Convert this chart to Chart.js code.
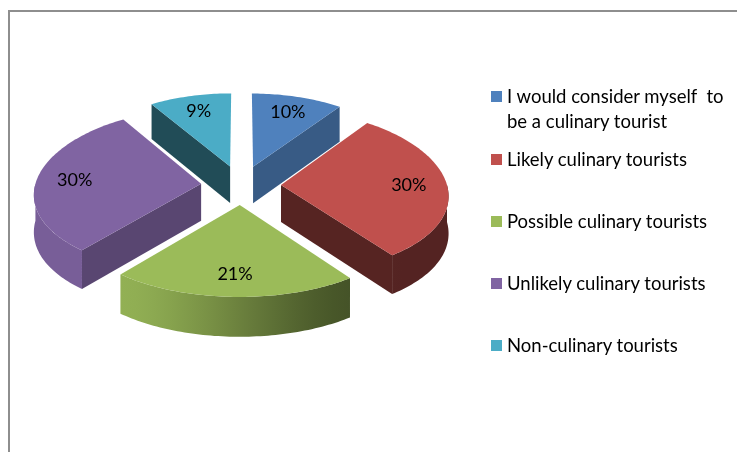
<!DOCTYPE html>
<html>
<head>
<meta charset="utf-8">
<script src="https://cdn.jsdelivr.net/npm/chart.js@4/dist/chart.umd.min.js"></script>
<style>
  html, body { margin: 0; padding: 0; background: #fff; }
  #wrap { position: relative; width: 737px; height: 452px; overflow: hidden; background: #fff; }
  #frame { position: absolute; left: 8px; top: 10px; width: 800px; height: 500px;
           border-top: 2px solid #8e8e8e; border-left: 2px solid #8e8e8e; }
  #c { position: absolute; left: 0; top: 0; }
  #legend { position: absolute; left: 491px; top: 84px; font-family: Lato, "Liberation Sans", sans-serif;
            font-size: 18.5px; line-height: 25px; color: #000; }
  .item { display: flex; align-items: flex-start; margin-bottom: 37px; }
  .item:first-child { margin-bottom: 13px; }
  .sw { width: 11px; height: 11px; margin-top: 7px; margin-right: 5px; flex: none; }
</style>
</head>
<body>
<div id="wrap">
  <div id="frame"></div>
  <canvas id="c" width="737" height="452"></canvas>
  <div id="legend"></div>
</div>
<script>
const categories = [
  ["I would consider myself  to", "be a culinary tourist"],
  "Likely culinary tourists",
  "Possible culinary tourists",
  "Unlikely culinary tourists",
  "Non-culinary tourists"
];
const values = [10, 30, 21, 30, 9];
const topColors = ["#4F81BD", "#C0504D", "#9BBB59", "#8064A2", "#4BACC6"];

// 3D look parameters
const PERSP = 1500, SY = 0.49, PY = 0.7, DEPTH = 37, LABEL_R = 0.77;

function hexRgb(h) { return [parseInt(h.slice(1,3),16), parseInt(h.slice(3,5),16), parseInt(h.slice(5,7),16)]; }
function shade(h, b) { const c = hexRgb(h).map(x => Math.max(0, Math.min(255, Math.round(x * b)))); return `rgb(${c[0]},${c[1]},${c[2]})`; }
function smooth(t) { t = Math.max(0, Math.min(1, t)); return t * t * (3 - 2 * t); }

const pie3d = {
  id: 'pie3d',
  beforeDatasetsDraw(chart) {
    const ctx = chart.ctx;
    const meta = chart.getDatasetMeta(0);
    const ds = chart.data.datasets[0];
    const proj = (cx, cy, u, v, h) => {
      const k = PERSP / (PERSP - v);
      return [cx + u * k, cy + v * SY * Math.pow(k, PY) + h * Math.sqrt(k)];
    };
    const slices = meta.data.map((arc, i) => {
      const p = arc.getProps(['x', 'y', 'startAngle', 'endAngle', 'outerRadius'], true);
      const d = arc.options.offset || 0;
      const mid = (p.startAngle + p.endAngle) / 2;
      return { i, p, ou: d * Math.cos(mid), ov: d * Math.sin(mid), mid, color: ds.backgroundColor[i] };
    });
    slices.sort((a, b) => a.ov - b.ov);
    const pathPts = (pts) => { ctx.beginPath(); pts.forEach((q, j) => j ? ctx.lineTo(q[0], q[1]) : ctx.moveTo(q[0], q[1])); ctx.closePath(); };
    for (const s of slices) {
      const { p, ou, ov, color } = s;
      const R = p.outerRadius, a0 = p.startAngle, a1 = p.endAngle;
      const P = (a, r, h) => proj(p.x, p.y, ou + r * Math.cos(a), ov + r * Math.sin(a), h);
      // radial faces
      const radial = [];
      if (Math.cos(a0) < 0) radial.push([a0, a0 - Math.PI / 2]);
      if (Math.cos(a1) > 0) radial.push([a1, a1 + Math.PI / 2]);
      for (const [a, phi] of radial) {
        pathPts([P(a, 0, 0), P(a, R, 0), P(a, R, DEPTH), P(a, 0, DEPTH)]);
        ctx.fillStyle = shade(color, 0.575 + 0.16 * Math.cos(phi));
        ctx.fill();
      }
      // curved outer face (front half: sin(a) > 0)
      for (const [lo, hi] of [[0, Math.PI], [2 * Math.PI, 3 * Math.PI], [-2 * Math.PI, -Math.PI]]) {
        const b0 = Math.max(a0, lo), b1 = Math.min(a1, hi);
        if (b1 - b0 < 1e-4) continue;
        const n = Math.max(4, Math.ceil((b1 - b0) / 0.02));
        const topPts = [], botPts = [];
        for (let j = 0; j <= n; j++) {
          const a = b0 + (b1 - b0) * j / n;
          topPts.push(P(a, R, 0)); botPts.push(P(a, R, DEPTH));
        }
        pathPts(topPts.concat(botPts.reverse()));
        const xs = topPts.map(q => q[0]);
        const xL = Math.min(...xs), xR = Math.max(...xs);
        const g = ctx.createLinearGradient(xL, 0, xR + 0.01, 0);
        const stops = [];
        for (let j = 0; j <= 12; j++) {
          const a = b0 + (b1 - b0) * j / 12;
          const q = P(a, R, 0);
          const an = ((a % (2 * Math.PI)) + 2 * Math.PI) % (2 * Math.PI);
          const bright = 0.44 + 0.5 * smooth((an - 0.87) / 1.4);
          stops.push([(q[0] - xL) / Math.max(1, xR - xL), bright]);
        }
        stops.sort((u, w) => u[0] - w[0]).forEach(([t, br]) => g.addColorStop(Math.max(0, Math.min(1, t)), shade(color, br)));
        ctx.fillStyle = g;
        ctx.fill();
      }
      // top face
      const n = Math.max(4, Math.ceil((a1 - a0) / 0.02));
      const top = [P(0, 0, 0)];
      for (let j = 0; j <= n; j++) top.push(P(a0 + (a1 - a0) * j / n, R, 0));
      pathPts(top);
      ctx.fillStyle = color;
      ctx.fill();
    }
    // percentage labels
    ctx.save();
    ctx.font = '18px Lato, "Liberation Sans", sans-serif';
    ctx.fillStyle = '#000';
    ctx.textAlign = 'center';
    ctx.textBaseline = 'middle';
    for (const s of slices) {
      const r = s.p.outerRadius * LABEL_R;
      const q = proj(s.p.x, s.p.y, s.ou + r * Math.cos(s.mid), s.ov + r * Math.sin(s.mid), 0);
      ctx.fillText(values[s.i] + '%', q[0], q[1]);
    }
    ctx.restore();
    return false;
  }
};

new Chart(document.getElementById('c'), {
  type: 'pie',
  data: {
    labels: categories,
    datasets: [{ data: values, backgroundColor: topColors, offset: 40, borderWidth: 0, radius: 166 }]
  },
  options: {
    responsive: false,
    animation: false,
    layout: { padding: { left: 0, right: 255, top: 0, bottom: 82 } },
    plugins: { legend: { display: false }, tooltip: { enabled: false } }
  },
  plugins: [pie3d]
});

// HTML legend built from the same arrays
const leg = document.getElementById('legend');
categories.forEach((lab, i) => {
  const it = document.createElement('div'); it.className = 'item';
  const sw = document.createElement('div'); sw.className = 'sw'; sw.style.background = topColors[i];
  const tx = document.createElement('div');
  (Array.isArray(lab) ? lab : [lab]).forEach((line, j) => {
    if (j) tx.appendChild(document.createElement('br'));
    tx.appendChild(document.createTextNode(line));
  });
  tx.style.whiteSpace = 'pre';
  it.appendChild(sw); it.appendChild(tx); leg.appendChild(it);
});
</script>
</body>
</html>
